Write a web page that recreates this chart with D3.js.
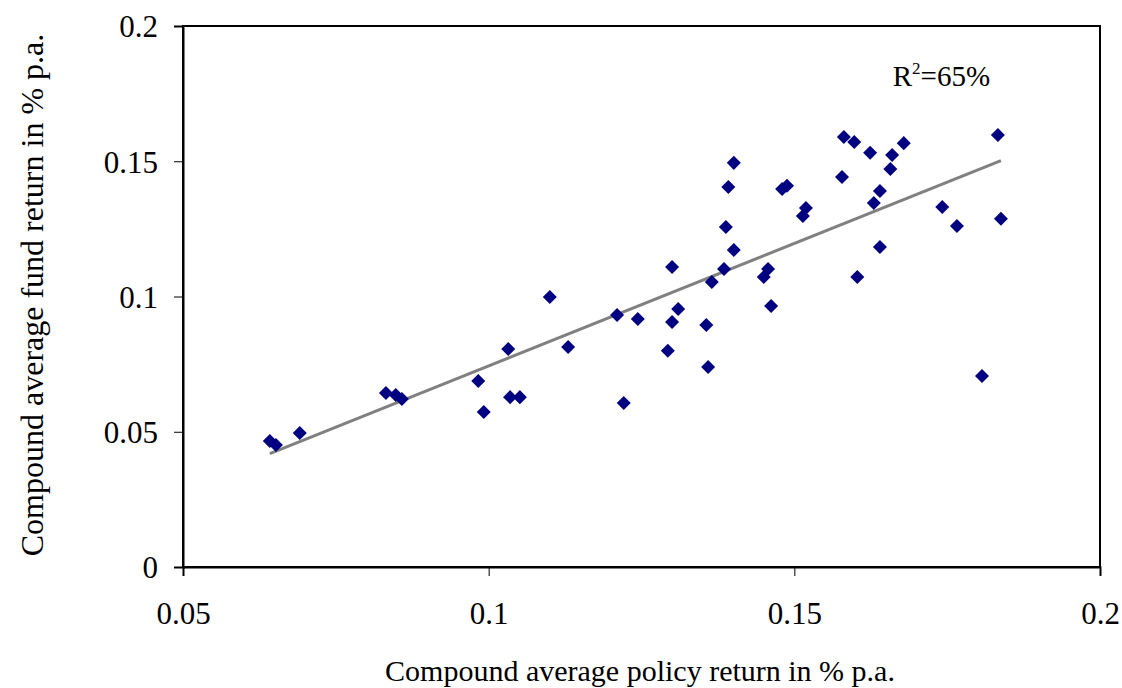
<!DOCTYPE html>
<html>
<head>
<meta charset="utf-8">
<script src="https://cdn.jsdelivr.net/npm/d3@7"></script>
<style>
  html, body { margin: 0; padding: 0; background: #fff; }
  svg { display: block; }
  svg text { font-family: 'Liberation Serif', 'DejaVu Serif', serif; }
</style>
</head>
<body>
<div id="chart"></div>
<script>
// policy return (x) and fund return (y)
const policyReturn = [
  0.0642, 0.0652, 0.0691, 0.0832, 0.0848, 0.0858, 0.0983, 0.0992, 0.1032, 0.1035,
  0.1051, 0.1100, 0.1130, 0.1210, 0.1221, 0.1244, 0.1293, 0.1300, 0.1300, 0.1310,
  0.1356, 0.1359, 0.1365, 0.1385, 0.1388, 0.1392, 0.1401, 0.1401, 0.1450, 0.1457,
  0.1462, 0.1480, 0.1488, 0.1514, 0.1519, 0.1578, 0.1581, 0.1598, 0.1603, 0.1624,
  0.1630, 0.1640, 0.1640, 0.1657, 0.1660, 0.1679, 0.1742, 0.1766, 0.1807, 0.1833,
  0.1838
];
const fundReturn = [
  0.0466, 0.0451, 0.0495, 0.0643, 0.0636, 0.0621, 0.0688, 0.0573, 0.0806, 0.0628,
  0.0628, 0.0998, 0.0813, 0.0932, 0.0606, 0.0917, 0.0799, 0.1109, 0.0906, 0.0954,
  0.0895, 0.0739, 0.1054, 0.1102, 0.1257, 0.1405, 0.1494, 0.1172, 0.1072, 0.1102,
  0.0965, 0.1397, 0.1409, 0.1298, 0.1327, 0.1442, 0.1590, 0.1571, 0.1072, 0.1531,
  0.1346, 0.1390, 0.1183, 0.1471, 0.1523, 0.1567, 0.1331, 0.1261, 0.0706, 0.1597,
  0.1287
];
const xTicks = [0.05, 0.1, 0.15, 0.2];
const yTicks = [0, 0.05, 0.1, 0.15, 0.2];
const rSquaredLabel = '65%';

const width = 1122;
const height = 688;
const margin = { top: 26, right: 22, bottom: 121, left: 183 };
const innerWidth = width - margin.left - margin.right;
const innerHeight = height - margin.top - margin.bottom;
const serif = "'Liberation Serif', 'DejaVu Serif', serif";

const points = policyReturn.map((p, i) => ({ x: p, y: fundReturn[i] }));

const x = d3.scaleLinear().domain([0.05, 0.2]).range([0, innerWidth]);
const y = d3.scaleLinear().domain([0, 0.2]).range([innerHeight, 0]);

const svg = d3
  .select('#chart')
  .append('svg')
  .attr('width', width)
  .attr('height', height);

const g = svg.append('g').attr('transform', `translate(${margin.left}, ${margin.top})`);

// plot area frame
g.append('rect')
  .attr('x', 0)
  .attr('y', 0)
  .attr('width', innerWidth)
  .attr('height', innerHeight)
  .attr('fill', '#fff')
  .attr('stroke', '#000')
  .attr('stroke-width', 2);

const yAxis = g
  .append('g')
  .call(d3.axisLeft(y).tickValues(yTicks).tickSize(9).tickPadding(16).tickFormat(d => String(d)));

const xAxis = g
  .append('g')
  .attr('transform', `translate(0, ${innerHeight})`)
  .call(d3.axisBottom(x).tickValues(xTicks).tickSize(9).tickPadding(26).tickFormat(d => String(d)));

[xAxis, yAxis].forEach(ax => {
  ax.attr('font-family', serif).attr('font-size', 31);
  ax.select('.domain').attr('stroke', '#000').attr('stroke-width', 2);
  ax.selectAll('.tick line').attr('stroke', '#000').attr('stroke-width', 1);
  ax.selectAll('.tick text').attr('fill', '#000');
});
yAxis.selectAll('.tick text').attr('dy', '0.35em');

// least squares trend line
const mx = d3.mean(points, d => d.x);
const my = d3.mean(points, d => d.y);
const slope =
  d3.sum(points, d => (d.x - mx) * (d.y - my)) / d3.sum(points, d => (d.x - mx) ** 2);
const intercept = my - slope * mx;
const [x0, x1] = d3.extent(points, d => d.x);

g.append('line')
  .attr('x1', x(x0))
  .attr('y1', y(intercept + slope * x0))
  .attr('x2', x(x1))
  .attr('y2', y(intercept + slope * x1))
  .attr('stroke', '#808080')
  .attr('stroke-width', 3);

const diamond = d3.symbol().type(d3.symbolDiamond2).size(125);

g.append('g')
  .selectAll('path')
  .data(points)
  .join('path')
  .attr('d', diamond)
  .attr('transform', d => `translate(${x(d.x)}, ${y(d.y)})`)
  .attr('fill', '#000080');

// R squared label
const r2 = g
  .append('text')
  .attr('x', x(0.1661))
  .attr('y', y(0.1778))
  .attr('font-family', serif)
  .attr('font-size', 29)
  .attr('fill', '#000');
r2.append('tspan').text('R');
r2.append('tspan').text('2').attr('dy', -12).attr('font-size', 17);
r2.append('tspan').text('=' + rSquaredLabel).attr('dy', 12);

// axis titles
svg.append('text')
  .attr('x', 640)
  .attr('y', 681)
  .attr('text-anchor', 'middle')
  .attr('font-family', serif)
  .attr('font-size', 30)
  .attr('fill', '#000')
  .text('Compound average policy return in % p.a.');

svg.append('text')
  .attr('transform', 'translate(43, 295) rotate(-90)')
  .attr('text-anchor', 'middle')
  .attr('font-family', serif)
  .attr('font-size', 32)
  .attr('fill', '#000')
  .text('Compound average fund return in % p.a.');
</script>
</body>
</html>
